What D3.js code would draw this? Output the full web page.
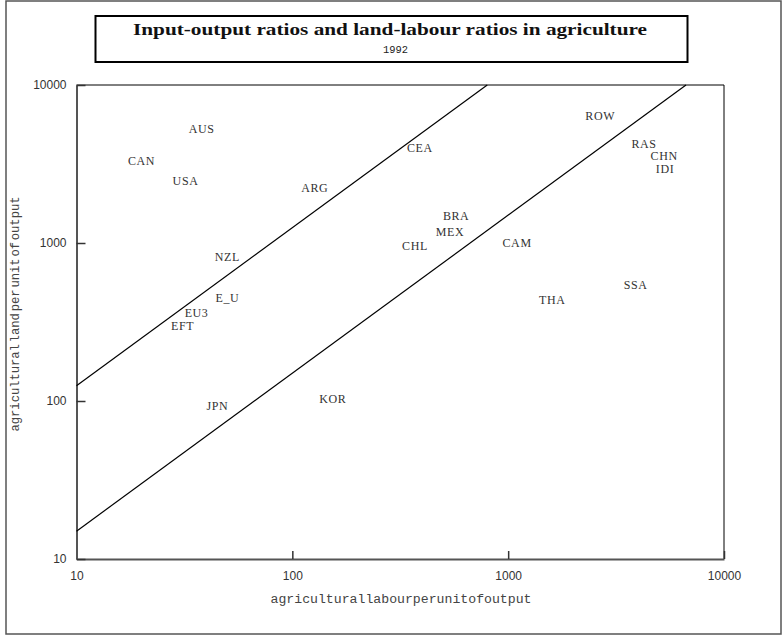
<!DOCTYPE html>
<html>
<head>
<meta charset="utf-8">
<script src="https://cdn.jsdelivr.net/npm/d3@7"></script>
<style>
  body { margin: 0; background: #fff; }
  svg { display: block; }
</style>
</head>
<body>
<svg id="chart" width="783" height="635"></svg>
<script>
// regions and their (labour, land) per unit of output, 1992
const regions = ['AUS', 'CAN', 'USA', 'ARG', 'NZL', 'E_U', 'EU3', 'EFT', 'JPN', 'KOR',
                 'CEA', 'ROW', 'RAS', 'CHN', 'IDI', 'BRA', 'MEX', 'CHL', 'CAM', 'SSA', 'THA']
const labour  = [38, 20, 32, 127, 50, 50, 36, 31, 45, 154,
                 390, 2670, 4260, 5280, 5330, 574, 538, 370, 1100, 3900, 1600]
const land    = [5300, 3300, 2470, 2230, 820, 450, 362, 300, 93, 104,
                 4000, 6370, 4230, 3550, 2940, 1480, 1170, 960, 1000, 540, 436]

// the two reference rays, as end points [labour, land]
const upperRay = [[10, 125], [800, 10000]]
const lowerRay = [[10, 15], [6667, 10000]]

const ticks = [10, 100, 1000, 10000]

const svg = d3.select('#chart')

// outer frame
svg.append('rect')
    .attr('x', 6).attr('y', 1)
    .attr('width', 775).attr('height', 633)
    .attr('fill', 'none')
    .attr('stroke', '#555')
    .attr('stroke-width', 1.5)

// title box
svg.append('rect')
    .attr('x', 95.5).attr('y', 16)
    .attr('width', 592).attr('height', 46)
    .attr('fill', 'none')
    .attr('stroke', '#000')
    .attr('stroke-width', 2)

svg.append('text')
    .attr('x', 390).attr('y', 35)
    .attr('text-anchor', 'middle')
    .attr('textLength', 514)
    .attr('lengthAdjust', 'spacingAndGlyphs')
    .style('font', 'bold 16.5px "Liberation Serif", serif')
    .style('fill', '#111')
    .text('Input-output ratios and land-labour ratios in agriculture')

svg.append('text')
    .attr('x', 395.5).attr('y', 53)
    .attr('text-anchor', 'middle')
    .attr('textLength', 25)
    .attr('lengthAdjust', 'spacingAndGlyphs')
    .style('font', '11px "Liberation Mono", monospace')
    .style('fill', '#222')
    .text('1992')

const x = d3.scaleLog().domain([10, 10000]).range([76.5, 724])
const y = d3.scaleLog().domain([10, 10000]).range([559, 85])

// top and right edges of the plot
svg.append('path')
    .attr('d', `M${x(10)},${y(10000)}H${x(10000)}V${y(10)}`)
    .attr('fill', 'none')
    .attr('stroke', '#000')
    .attr('stroke-width', 1)

const xAxis = d3.axisBottom(x)
    .tickValues(ticks)
    .tickFormat(d3.format('d'))
    .tickSizeInner(-8)
    .tickSizeOuter(0)
    .tickPadding(12)

const yAxis = d3.axisLeft(y)
    .tickValues(ticks)
    .tickFormat(d3.format('d'))
    .tickSizeInner(-9)
    .tickSizeOuter(0)
    .tickPadding(10)

const gx = svg.append('g')
    .attr('transform', `translate(0,${y(10)})`)
    .call(xAxis)

const gy = svg.append('g')
    .attr('transform', `translate(${x(10)},0)`)
    .call(yAxis)

for (const g of [gx, gy]) {
    g.select('.domain').attr('stroke', '#555').attr('stroke-width', 2)
    g.selectAll('.tick line').attr('stroke', '#333').attr('stroke-width', 1.5)
    g.selectAll('.tick text')
        .style('font', '12px "Liberation Sans", Arial, sans-serif')
        .style('fill', '#333')
}

// rays
const line = d3.line().x(d => x(d[0])).y(d => y(d[1]))
svg.selectAll('path.ray')
    .data([upperRay, lowerRay])
    .join('path')
    .attr('class', 'ray')
    .attr('d', line)
    .attr('fill', 'none')
    .attr('stroke', '#000')
    .attr('stroke-width', 1.2)

// region labels act as the markers
svg.selectAll('text.region')
    .data(regions)
    .join('text')
    .attr('class', 'region')
    .attr('x', (d, i) => x(labour[i]))
    .attr('y', (d, i) => y(land[i]))
    .attr('dy', '0.35em')
    .attr('text-anchor', 'middle')
    .style('font', '12px "Liberation Serif", serif')
    .style('letter-spacing', '0.6px')
    .style('fill', '#333')
    .text(d => d)

// axis titles
svg.append('text')
    .attr('x', 401).attr('y', 603)
    .attr('text-anchor', 'middle')
    .attr('textLength', 261)
    .attr('lengthAdjust', 'spacingAndGlyphs')
    .style('font', '12.5px "Liberation Mono", monospace')
    .style('word-spacing', '-0.6em')
    .style('fill', '#444')
    .text('agricultural labour per unit of output')

svg.append('text')
    .attr('transform', 'translate(19,314) rotate(-90)')
    .attr('text-anchor', 'middle')
    .attr('textLength', 235)
    .attr('lengthAdjust', 'spacingAndGlyphs')
    .style('font', '12.5px "Liberation Mono", monospace')
    .style('word-spacing', '-0.45em')
    .style('fill', '#444')
    .text('agricultural land per unit of output')
</script>
</body>
</html>
